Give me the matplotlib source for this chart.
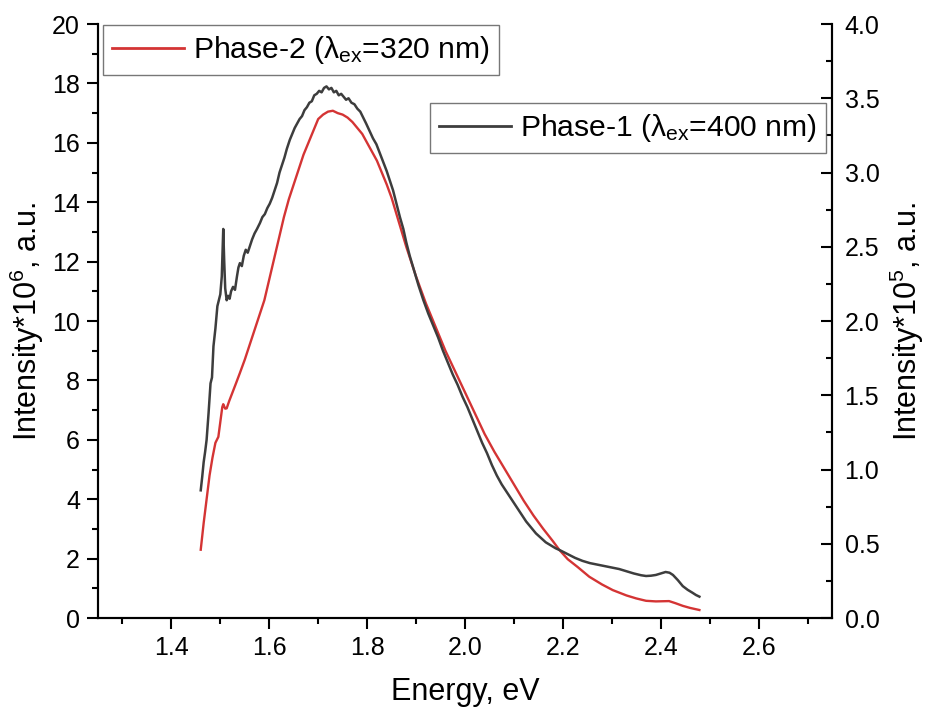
import matplotlib
matplotlib.use('Agg')
import matplotlib.pyplot as plt
from matplotlib.ticker import MultipleLocator

plt.rcParams['font.family'] = ['Liberation Sans', 'DejaVu Sans']
plt.rcParams['mathtext.fontset'] = 'custom'
plt.rcParams['mathtext.rm'] = 'Liberation Sans'
plt.rcParams['mathtext.it'] = 'Liberation Sans'

# Phase-2 (left axis, x10^6)
energy_p2 = [1.460, 1.466, 1.472, 1.478, 1.484, 1.490, 1.496, 1.500, 1.504, 1.506,
             1.510, 1.513, 1.518, 1.525, 1.532, 1.540, 1.550, 1.560, 1.570, 1.580,
             1.590, 1.600, 1.610, 1.620, 1.630, 1.640, 1.650, 1.660, 1.670, 1.680,
             1.690, 1.700, 1.710, 1.720, 1.730, 1.740, 1.750, 1.760, 1.770, 1.780,
             1.790, 1.800, 1.810, 1.820, 1.830, 1.840, 1.850, 1.860, 1.870, 1.880,
             1.890, 1.900, 1.920, 1.940, 1.960, 1.980, 2.000, 2.020, 2.040, 2.060,
             2.080, 2.100, 2.120, 2.140, 2.160, 2.180, 2.193, 2.210, 2.230, 2.254,
             2.280, 2.302, 2.330, 2.350, 2.370, 2.390, 2.417, 2.430, 2.445, 2.460,
             2.479]
int_p2 = [2.3, 3.2, 4.0, 4.8, 5.4, 5.9, 6.1, 6.6, 7.1, 7.2,
          7.05, 7.06, 7.3, 7.6, 7.9, 8.25, 8.7, 9.2, 9.7, 10.2,
          10.7, 11.4, 12.1, 12.8, 13.5, 14.1, 14.6, 15.1, 15.6, 16.0,
          16.4, 16.8, 16.95, 17.05, 17.08, 17.0, 16.95, 16.85, 16.7, 16.5,
          16.3, 16.0, 15.7, 15.4, 15.0, 14.6, 14.15, 13.6, 13.05, 12.5,
          12.0, 11.5, 10.6, 9.8, 9.0, 8.3, 7.6, 6.9, 6.2, 5.6,
          5.05, 4.5, 3.95, 3.45, 3.0, 2.58, 2.29, 1.98, 1.72, 1.39,
          1.13, 0.94, 0.76, 0.66, 0.58, 0.56, 0.57, 0.50, 0.41, 0.34,
          0.27]

# Phase-1 (right axis, x10^5)
energy_p1 = [1.460, 1.463, 1.466, 1.469, 1.472, 1.476, 1.480, 1.483, 1.486, 1.490,
             1.494, 1.497, 1.500, 1.503, 1.506, 1.508, 1.510, 1.513, 1.516, 1.519,
             1.522, 1.526, 1.530, 1.534, 1.537, 1.540, 1.544, 1.548, 1.552, 1.556,
             1.560, 1.565, 1.570, 1.575, 1.581, 1.586, 1.591, 1.596, 1.601, 1.606,
             1.611, 1.616, 1.621, 1.626, 1.631, 1.636, 1.642, 1.647, 1.652, 1.657,
             1.662, 1.667, 1.672, 1.677, 1.682, 1.687, 1.692, 1.697, 1.702, 1.707,
             1.712, 1.717, 1.722, 1.727, 1.732, 1.737, 1.742, 1.747, 1.752, 1.757,
             1.762, 1.768, 1.774, 1.780, 1.786, 1.792, 1.798, 1.805, 1.812, 1.819,
             1.826, 1.833, 1.840, 1.847, 1.853, 1.860, 1.867, 1.874, 1.880, 1.887,
             1.895, 1.905, 1.915, 1.925, 1.935, 1.945, 1.955, 1.965, 1.975, 1.985,
             1.995, 2.005, 2.015, 2.025, 2.035, 2.045, 2.055, 2.065, 2.075, 2.085,
             2.095, 2.105, 2.115, 2.125, 2.135, 2.145, 2.155, 2.165, 2.175, 2.185,
             2.195, 2.210, 2.225, 2.240, 2.255, 2.270, 2.285, 2.300, 2.315, 2.330,
             2.345, 2.360, 2.370, 2.380, 2.390, 2.400, 2.410, 2.418, 2.425, 2.435,
             2.445, 2.455, 2.465, 2.472, 2.479]
int_p1 = [0.86, 0.95, 1.05, 1.12, 1.20, 1.38, 1.58, 1.62, 1.83, 1.95,
          2.10, 2.14, 2.18, 2.30, 2.62, 2.40, 2.22, 2.14, 2.17, 2.15,
          2.20, 2.23, 2.21, 2.30, 2.36, 2.39, 2.37, 2.44, 2.48, 2.46,
          2.50, 2.55, 2.59, 2.62, 2.66, 2.70, 2.72, 2.76, 2.79, 2.83,
          2.88, 2.93, 3.00, 3.05, 3.10, 3.16, 3.22, 3.26, 3.30, 3.33,
          3.36, 3.38, 3.42, 3.44, 3.47, 3.48, 3.52, 3.53, 3.55, 3.54,
          3.57, 3.58, 3.56, 3.57, 3.54, 3.55, 3.52, 3.53, 3.51, 3.49,
          3.50, 3.47, 3.46, 3.43, 3.41, 3.37, 3.33, 3.28, 3.23, 3.19,
          3.13, 3.07, 3.01, 2.94, 2.88, 2.79, 2.70, 2.62, 2.53, 2.44,
          2.35, 2.24, 2.14, 2.05, 1.97, 1.89, 1.80, 1.72, 1.64, 1.57,
          1.49, 1.42, 1.34, 1.26, 1.18, 1.11, 1.03, 0.96, 0.90, 0.85,
          0.80, 0.75, 0.70, 0.65, 0.61, 0.57, 0.54, 0.51, 0.49, 0.47,
          0.455, 0.43, 0.405, 0.385, 0.37, 0.36, 0.35, 0.34, 0.33, 0.315,
          0.30, 0.288, 0.283, 0.285, 0.29, 0.30, 0.31, 0.305, 0.29, 0.255,
          0.215, 0.19, 0.17, 0.155, 0.144]

label_p2 = r'Phase-2 ($\lambda_{\mathrm{ex}}$=320 nm)'
label_p1 = r'Phase-1 ($\lambda_{\mathrm{ex}}$=400 nm)'

fig = plt.figure(figsize=(9.26, 7.13), dpi=100)
ax = fig.add_axes([0.1058, 0.1332, 0.7927, 0.8331])
ax2 = ax.twinx()

ax.plot(energy_p2, int_p2, color='#d43434', linewidth=1.7, label=label_p2)
ax2.plot(energy_p1, int_p1, color='#3d3d3d', linewidth=1.8, label=label_p1)

ax.set_xlim(1.25, 2.75)
ax.set_ylim(0, 20)
ax2.set_ylim(0, 4.0)

ax.xaxis.set_major_locator(MultipleLocator(0.2))
ax.xaxis.set_minor_locator(MultipleLocator(0.1))
ax.yaxis.set_major_locator(MultipleLocator(2))
ax.yaxis.set_minor_locator(MultipleLocator(1))
ax2.yaxis.set_major_locator(MultipleLocator(0.5))
ax2.yaxis.set_minor_locator(MultipleLocator(0.25))
ax.xaxis.set_major_formatter(plt.FuncFormatter(lambda v, p: f'{v:.1f}'))
ax2.yaxis.set_major_formatter(plt.FuncFormatter(lambda v, p: f'{v:.1f}'))

for a in (ax, ax2):
    a.spines['top'].set_visible(False)
    for s in a.spines.values():
        s.set_linewidth(1.5)

ax.tick_params(axis='both', which='major', direction='out', length=8, width=1.5,
               labelsize=18, pad=5)
ax.tick_params(axis='both', which='minor', direction='out', length=4, width=1.5)
ax2.tick_params(axis='y', which='major', direction='in', length=8, width=1.5,
                labelsize=18, pad=9)
ax2.tick_params(axis='y', which='minor', direction='in', length=4, width=1.5)

ax.set_xlabel('Energy, eV', fontsize=22, labelpad=12)
ax.set_ylabel(r'Intensity*10$^6$, a.u.', fontsize=22, labelpad=4)
ax2.set_ylabel(r'Intensity*10$^5$, a.u.', fontsize=22, labelpad=6)

leg1 = ax.legend(loc='upper left', bbox_to_anchor=(0.0068, 0.998), fontsize=21.7,
                 frameon=True, fancybox=False, edgecolor='#555555',
                 handlelength=2.4, handletextpad=0.3, borderpad=0.3,
                 borderaxespad=0)
leg1.get_frame().set_linewidth(1.0)
leg2 = ax2.legend(loc='upper right', bbox_to_anchor=(0.992, 0.867), fontsize=21.7,
                  frameon=True, fancybox=False, edgecolor='#555555',
                  handlelength=2.4, handletextpad=0.3, borderpad=0.3,
                  borderaxespad=0)
leg2.get_frame().set_linewidth(1.0)
for lg in (leg1, leg2):
    for h in lg.get_lines():
        h.set_linewidth(2.0)

fig.savefig('out.png', dpi=100)
